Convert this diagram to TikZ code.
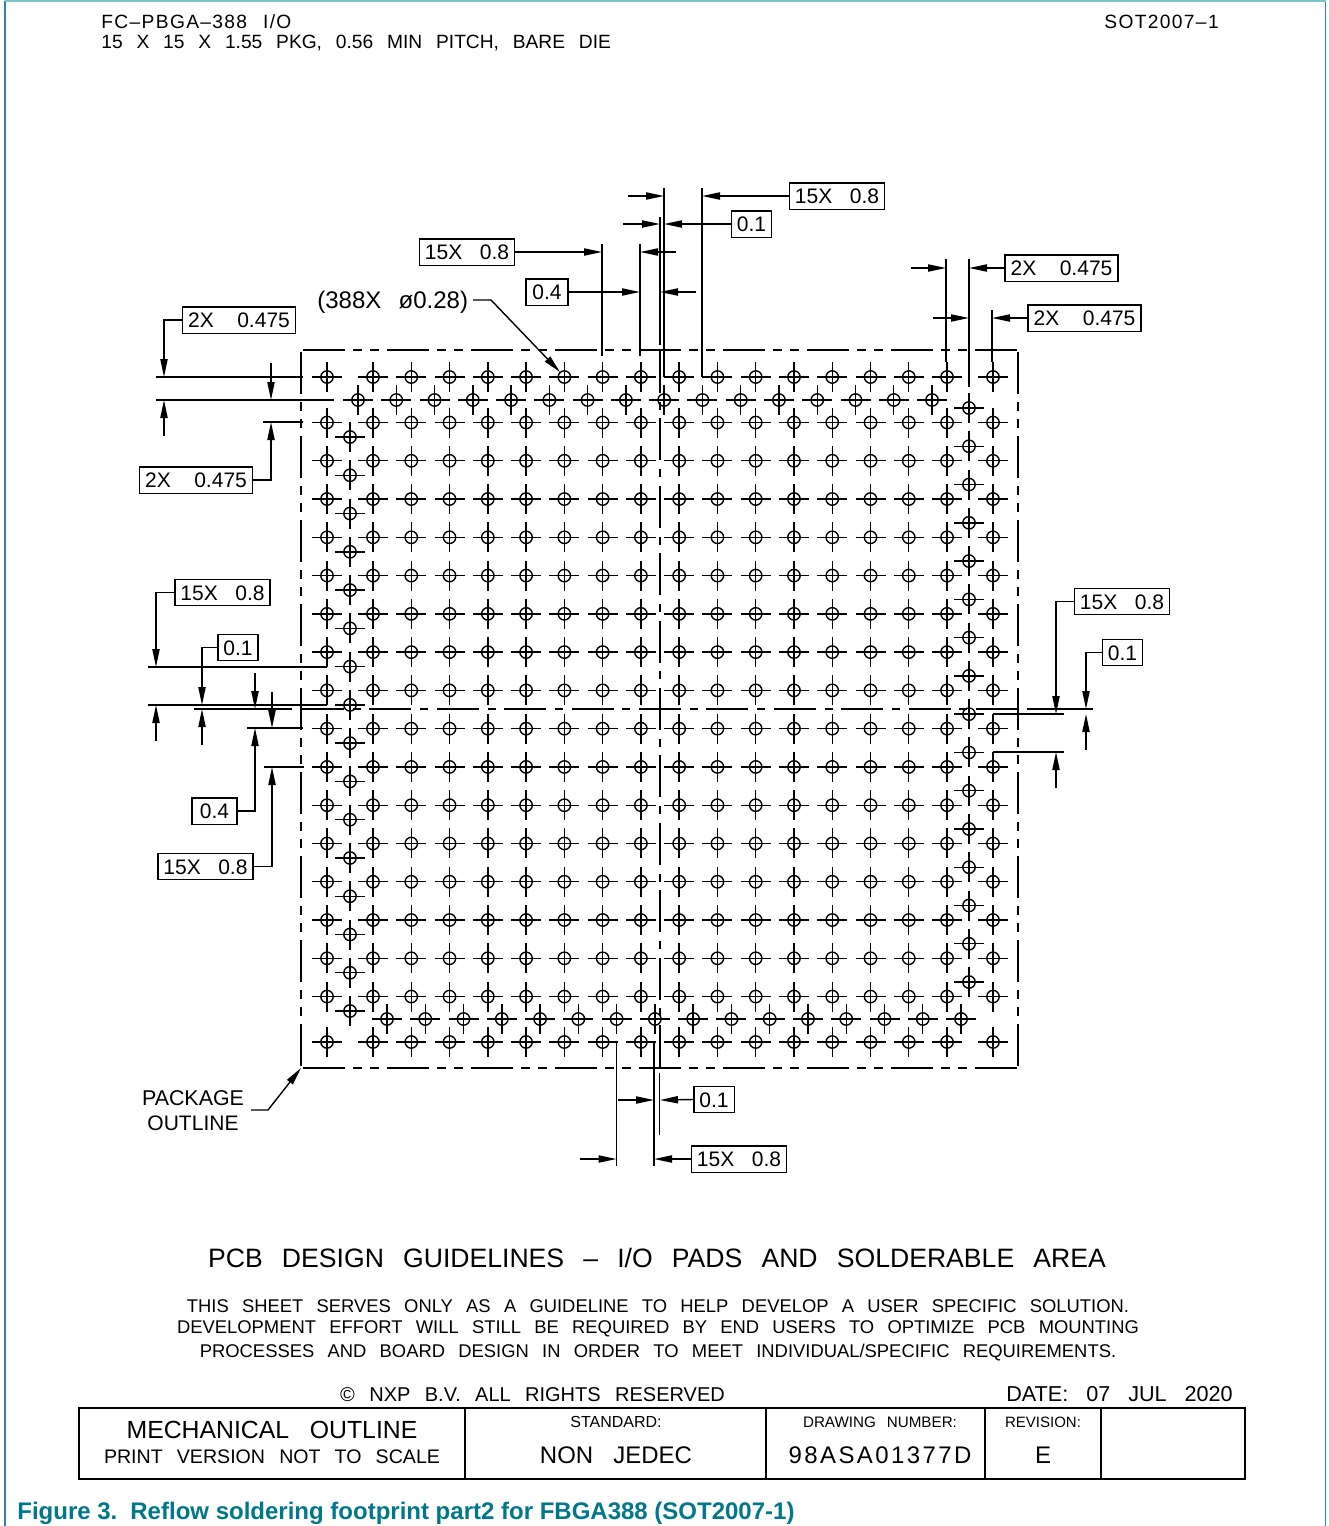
\documentclass[tikz,border=0pt]{standalone}
\usepackage{fontspec}
\usetikzlibrary{arrows.meta}
\setmainfont{Liberation Sans}[WordSpace=3]
\newfontfamily\cadspaced{Liberation Sans}[LetterSpace=7]
\newfontfamily\cadnumber{Liberation Sans}[LetterSpace=10]
\newfontfamily\capfont{Liberation Sans}
\definecolor{sheetblue}{HTML}{2E86A8}
\definecolor{sheettop}{HTML}{7CC5CC}
\definecolor{captionteal}{HTML}{00778B}
\newcommand{\cadsize}[1]{\fontsize{#1}{#1}\selectfont}
\newcommand{\wordgap}[1]{\spaceskip=#1em\relax}
\newcommand{\wideX}{2X\hspace{3pt} 0.475}
\tikzset{
    dimbox/.style={draw,line width=0.7pt,inner xsep=2.8pt,inner ysep=0pt,minimum height=13.2pt,
        text height=7.6pt,text depth=0pt,font=\cadsize{10.5pt}},
    leader/.style={line width=0.7pt},
    dimarrow/.style={line width=0.7pt,-{Triangle[length=9pt,width=3.6pt]}},
    extline/.style={line width=0.75pt},
    outline/.style={line width=0.85pt,dash pattern=on 21pt off 3.8pt on 4.8pt off 3.8pt on 4.8pt off 3.8pt,dash phase=10.5pt},
    centerline/.style={line width=0.7pt,dash pattern=on 21pt off 4.35pt on 4pt off 4.35pt,dash phase=10.5pt},
    label/.style={inner sep=0pt,anchor=base},
    pad/.pic={
        \draw[line width=0.7pt] (-15,0) -- (15,0) (0,-15) -- (0,15);
        \draw[line width=0.7pt] (0,0) circle (6.2);
    }
}
\begin{document}
\begin{tikzpicture}[x=0.5pt,y=-0.5pt]
    \useasboundingbox (0,0) rectangle (1328,1526);
    \draw[sheetblue,line width=0.6pt] (5,1526) -- (5,1);
    \draw[sheetblue,line width=0.6pt] (1325.5,1) -- (1325.5,1526);
    \draw[sheettop,line width=0.6pt] (5,1) -- (1325.5,1);

    % header
    \node[label,anchor=base west,font=\cadspaced\cadsize{9.6pt}\wordgap{0.83}] (head1) at (101,28) {FC–PBGA–388 I/O};
    \node[label,anchor=base west,font=\cadsize{9.6pt}\wordgap{0.72}] (head2) at (101,48) {15 X 15 X 1.55 PKG, 0.56 MIN PITCH, BARE DIE};
    \node[label,anchor=base west,font=\cadspaced\cadsize{9.6pt}] (sot) at (1104,28) {SOT2007–1};

    % pads
    \foreach \py in {377,422.5,460.77,499.04,537.31,575.58,613.85,652.12,690.39,728.66,766.93,805.2,843.47,881.74,920.01,958.28,996.55,1042}
        \foreach \px in {327,373,411.27,449.54,487.81,526.08,564.35,602.62,640.89,679.16,717.43,755.7,793.97,832.24,870.51,908.78,947.05,993}
            \pic at (\px,\py) {pad};
    \foreach \n in {0,...,15} {
        \pic at (358+38.27*\n,400) {pad};
        \pic at (387+38.27*\n,1019) {pad};
        \pic at (350,437+38.27*\n) {pad};
        \pic at (969,408+38.27*\n) {pad};
    }

    % package outline, drawn out from the middle of each side
    \draw[outline] (660,350) -- (1018,350);
    \draw[outline] (660,350) -- (301,350);
    \draw[outline] (660,1068) -- (1018,1068);
    \draw[outline] (660,1068) -- (301,1068);
    \draw[outline] (301,709) -- (301,350);
    \draw[outline] (301,709) -- (301,1068);
    \draw[outline] (1018,709) -- (1018,350);
    \draw[outline] (1018,709) -- (1018,1068);

    % center lines
    \draw[centerline] (660,709) -- (1027,709);
    \draw[centerline] (660,709) -- (300,709);
    \draw[centerline] (660,709) -- (660,350);
    \draw[centerline] (660,709) -- (660,1070);

    % top dimensions
    \node[dimbox] (topwide) at (837,196) {15X 0.8};
    \node[dimbox] (topgap) at (751.5,224) {0.1};
    \node[dimbox] (topleft) at (467,252) {15X 0.8};
    \node[dimbox,minimum width=21pt] (toppad) at (547,292) {0.4};
    \coordinate (tipwide) at (702,196);
    \coordinate (tipgap) at (664,224);
    \coordinate (tipleft) at (602,252);
    \coordinate (tippad) at (640,292);
    \draw[extline] (602,244) -- (602,356);
    \draw[extline] (640,244) -- (640,356);
    \draw[extline] (660,217) -- (660,345);
    \draw[extline] (664,188) -- (664,377);
    \draw[extline] (702,188) -- (702,377);
    \draw[dimarrow] (topwide.west) -- (tipwide);
    \draw[dimarrow] (628,196) -- (664,196);
    \draw[dimarrow] (topgap.west) -- (tipgap);
    \draw[dimarrow] (623,224) -- (660,224);
    \draw[dimarrow] (topleft.east) -- (tipleft);
    \draw[dimarrow] (676,252) -- (640,252);
    \draw[dimarrow] (toppad.east) -- (tippad);
    \draw[dimarrow] (696,292) -- (660,292);

    % right top dimensions
    \node[dimbox] (rightone) at (1061.5,268) {\wideX};
    \node[dimbox] (righttwo) at (1084.5,318) {\wideX};
    \coordinate (tipone) at (969,268);
    \coordinate (tiptwo) at (992,318);
    \draw[extline] (946,259) -- (946,362);
    \draw[extline] (969,259) -- (969,387);
    \draw[extline] (992,310) -- (992,362);
    \draw[dimarrow] (911,268) -- (946,268);
    \draw[dimarrow] (rightone.west) -- (tipone);
    \draw[dimarrow] (933,318) -- (969,318);
    \draw[dimarrow] (righttwo.west) -- (tiptwo);

    % left top dimensions
    \node[dimbox] (leftone) at (239,320) {\wideX};
    \node[dimbox] (lefttwo) at (196,480) {\wideX};
    \coordinate (tiplone) at (164,377);
    \coordinate (tipltwo) at (271,422);
    \draw[extline] (156,377) -- (303,377);
    \draw[extline] (156,400) -- (334,400);
    \draw[extline] (263,422) -- (303,422);
    \draw[dimarrow] (leftone.west) -| (tiplone);
    \draw[dimarrow] (164,436) -- (164,400);
    \draw[dimarrow] (271,363) -- (271,400);
    \draw[dimarrow] (lefttwo.east) -| (tipltwo);

    % left middle dimensions
    \node[dimbox] (midwide) at (222.5,592.5) {15X 0.8};
    \node[dimbox] (midgap) at (238,647.5) {0.1};
    \node[dimbox,minimum width=22.5pt] (midpad) at (214.5,811) {0.4};
    \node[dimbox] (midlow) at (205.5,866.5) {15X 0.8};
    \coordinate (tipmwide) at (156,667);
    \coordinate (tipmgap) at (202,705);
    \coordinate (tipmpad) at (255,728);
    \coordinate (tipmlow) at (272,767);
    \draw[extline] (148,667) -- (327,667);
    \draw[extline] (148,705) -- (327,705);
    \draw[extline] (194,709) -- (292,709);
    \draw[extline] (247,728) -- (303,728);
    \draw[extline] (264,767) -- (304,767);
    \draw[dimarrow] (midwide.west) -| (tipmwide);
    \draw[dimarrow] (156,741) -- (156,705);
    \draw[dimarrow] (midgap.west) -| (tipmgap);
    \draw[dimarrow] (202,745) -- (202,709);
    \draw[dimarrow] (255,673) -- (255,709);
    \draw[dimarrow] (272,692) -- (272,728);
    \draw[dimarrow] (midpad.east) -| (tipmpad);
    \draw[dimarrow] (midlow.east) -| (tipmlow);

    % right middle dimensions
    \node[dimbox] (sidewide) at (1122,601.5) {15X 0.8};
    \node[dimbox] (sidegap) at (1122.5,652.5) {0.1};
    \coordinate (tipswide) at (1056,714);
    \coordinate (tipsgap) at (1086,709);
    \draw[extline] (1027,709) -- (1093,709);
    \draw[extline] (993,714) -- (1064,714);
    \draw[extline] (993,752) -- (1064,752);
    \draw[dimarrow] (sidewide.west) -| (tipswide);
    \draw[dimarrow] (sidegap.west) -| (tipsgap);
    \draw[dimarrow] (1086,750) -- (1086,714);
    \draw[dimarrow] (1056,788) -- (1056,752);

    % bottom dimensions
    \node[dimbox] (lowgap) at (714,1099.5) {0.1};
    \node[dimbox] (lowwide) at (739,1159) {15X 0.8};
    \coordinate (tiplgap) at (660,1100);
    \coordinate (tiplwide) at (654,1159);
    \draw[extline] (616.5,1041) -- (616.5,1166);
    \draw[extline] (654,1041) -- (654,1166);
    \draw[extline] (659.5,1073) -- (659.5,1135);
    \draw[dimarrow] (618,1100) -- (654,1100);
    \draw[dimarrow] (lowgap.west) -- (tiplgap);
    \draw[dimarrow] (580,1159) -- (616.5,1159);
    \draw[dimarrow] (lowwide.west) -- (tiplwide);

    % callouts
    \node[label,anchor=base west,font=\cadsize{12pt}\wordgap{0.72}] (padnote) at (317,308) {(388X ø0.28)};
    \coordinate (padbend) at (491,300);
    \coordinate (padtip) at (560,372);
    \draw[dimarrow] (473,300) -- (padbend) -- (padtip);
    \node[label,font=\cadsize{10.7pt}] (pkg1) at (193,1105.5) {PACKAGE};
    \node[label,font=\cadsize{10.5pt}] (pkg2) at (193,1130.5) {OUTLINE};
    \coordinate (pkgstart) at (251,1110);
    \coordinate (pkgbend) at (268,1110);
    \coordinate (pkgtip) at (301,1068);
    \draw[dimarrow] (pkgstart) -- (pkgbend) -- (pkgtip);

    % notes
    \node[label,font=\cadsize{13.3pt}\wordgap{0.72}] (title) at (657,1267) {PCB DESIGN GUIDELINES – I/O PADS AND SOLDERABLE AREA};
    \node[label,font=\cadsize{9.2pt}\wordgap{0.72}] (note1) at (658,1312) {THIS SHEET SERVES ONLY AS A GUIDELINE TO HELP DEVELOP A USER SPECIFIC SOLUTION.};
    \node[label,font=\cadsize{9.2pt}\wordgap{0.72}] (note2) at (658,1333) {DEVELOPMENT EFFORT WILL STILL BE REQUIRED BY END USERS TO OPTIMIZE PCB MOUNTING};
    \node[label,font=\cadsize{9.2pt}\wordgap{0.72}] (note3) at (658,1357) {PROCESSES AND BOARD DESIGN IN ORDER TO MEET INDIVIDUAL/SPECIFIC REQUIREMENTS.};
    \node[label,font=\cadsize{10pt}\wordgap{0.72}] (copy) at (532.5,1401) {© NXP B.V. ALL RIGHTS RESERVED};
    \node[label,font=\cadsize{10.8pt}] (date) at (1119.5,1401) {DATE: 07 JUL 2020};

    % title block
    \draw[line width=0.75pt] (79,1408) rectangle (1245,1479);
    \draw[line width=0.75pt] (465,1408) -- (465,1479);
    \draw[line width=0.75pt] (766,1408) -- (766,1479);
    \draw[line width=0.75pt] (985,1408) -- (985,1479);
    \draw[line width=0.75pt] (1101,1408) -- (1101,1479);
    \node[label,font=\cadsize{12.4pt}] (mech) at (272,1438) {MECHANICAL OUTLINE};
    \node[label,font=\cadsize{9.8pt}\wordgap{0.72}] (print) at (272,1463) {PRINT VERSION NOT TO SCALE};
    \node[label,font=\cadsize{8pt}] (std) at (616,1427) {STANDARD:};
    \node[label,font=\cadsize{12pt}] (jedec) at (616,1463) {NON JEDEC};
    \node[label,font=\cadsize{7.6pt}\wordgap{0.72}] (drw) at (880,1427) {DRAWING NUMBER:};
    \node[label,font=\cadnumber\cadsize{12pt}] (number) at (880,1463) {98ASA01377D};
    \node[label,font=\cadsize{7.5pt}] (rev) at (1043,1427) {REVISION:};
    \node[label,font=\cadsize{12pt}] (letter) at (1043,1463) {E};

    % caption
    \node[label,anchor=base west,text=captionteal,font=\capfont\bfseries\cadsize{12pt}] (caption) at (17,1519) {Figure 3.\hspace{6.5pt}Reflow soldering footprint part2 for FBGA388 (SOT2007-1)};
\end{tikzpicture}
\end{document}
